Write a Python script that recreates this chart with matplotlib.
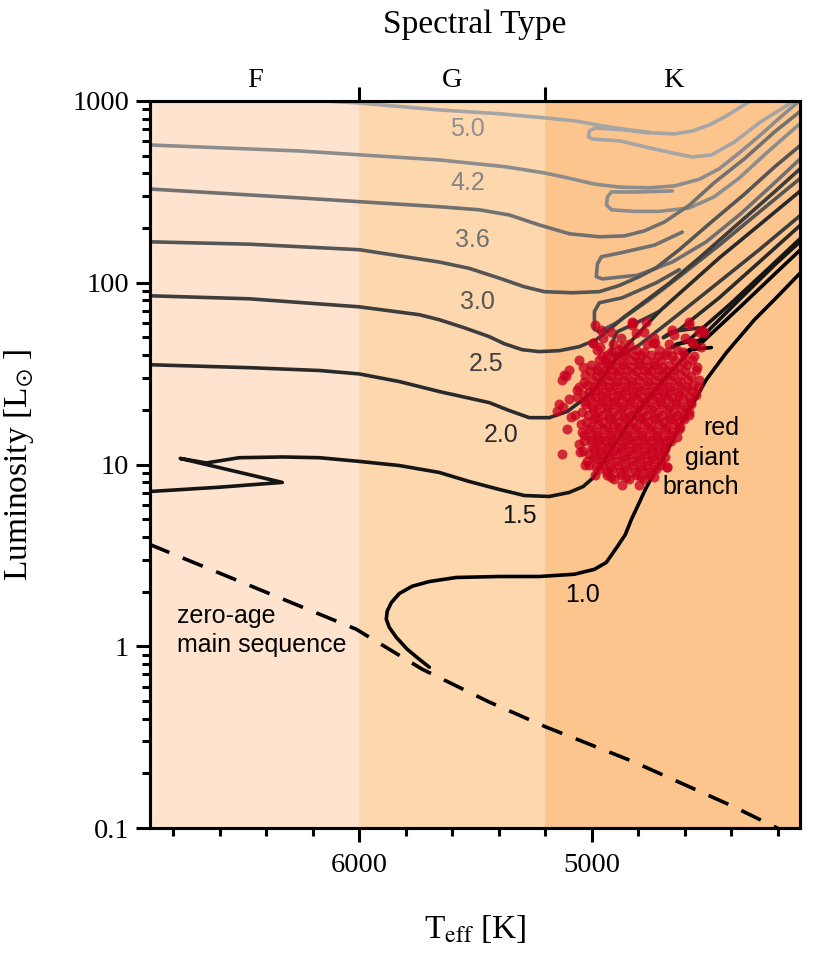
import matplotlib.pyplot as plt
from matplotlib.ticker import MultipleLocator, NullFormatter

plt.rcParams['font.family'] = 'Liberation Serif'
plt.rcParams['mathtext.fontset'] = 'stix'

# spectral type bands (K)
band_edges = [6900, 6000, 5200, 4100]
band_names = ['F', 'G', 'K']
band_centres = [6450, 5600, 4650]
band_colors = ['#fee4cf', '#fdd8ae', '#fdc58e']

# zero-age main sequence
zams_teff = [6903, 6013, 5729, 5441, 5196, 4826, 4396, 4224, 4108]
zams_lum = [3.64, 1.24, 0.747, 0.493, 0.359, 0.233, 0.132, 0.103, 0.087]

# evolutionary tracks: main branch + He-burning part
m50_teff = [6903, 6301, 6000, 5656, 5398, 5200, 5075, 4951, 4839, 4731, 4645, 4568, 4495, 4422, 4344, 4280]
m50_lum = [1152, 1026, 975, 893, 851, 807, 778, 729, 693, 667, 659, 684, 738, 827, 955, 1060]
m50_he_teff = [4753, 4860, 4985, 5011, 5015, 4998, 4877, 4753, 4654, 4568, 4486, 4387, 4275, 4151, 4086]
m50_he_lum = [667, 693, 711, 684, 634, 618, 603, 552, 518, 492, 505, 595, 767, 963, 1079]

m42_teff = [6903, 6258, 5656, 5368, 5204, 5097, 4989, 4882, 4753, 4645, 4538, 4452, 4361, 4280, 4194, 4108]
m42_lum = [573, 531, 474, 434, 402, 376, 349, 336, 333, 341, 371, 424, 525, 642, 804, 1000]
m42_he_teff = [4654, 4796, 4916, 4933, 4937, 4916, 4817, 4710, 4581, 4474, 4366, 4258, 4151, 4086]
m42_he_lum = [320, 316, 316, 297, 268, 252, 247, 247, 258, 297, 377, 505, 667, 787]

m36_teff = [6903, 6258, 5656, 5484, 5355, 5226, 5097, 4968, 4860, 4774, 4688, 4581, 4474, 4344, 4215, 4086]
m36_lum = [328, 293, 262, 252, 236, 208, 186, 179, 181, 193, 216, 267, 355, 481, 675, 915]
m36_he_teff = [4611, 4731, 4877, 4959, 4976, 4981, 4955, 4804, 4654, 4508, 4361, 4215, 4086]
m36_he_lum = [190, 161, 146, 139, 127, 108, 105, 110, 130, 168, 239, 354, 505]

m30_teff = [6903, 6473, 6000, 5656, 5527, 5398, 5290, 5204, 5084, 4968, 4882, 4796, 4723, 4624,
            4495, 4344, 4215, 4086]
m30_lum = [168, 163, 152, 130, 120, 106, 95.0, 89.3, 88.1, 89.3, 96.6, 108, 121, 152,
           211, 307, 433, 595]
m30_he_teff = [4624, 4723, 4869, 4968, 4989, 4989, 4968, 4895, 4753, 4624, 4452, 4280, 4086]
m30_he_lum = [118, 100, 82.7, 77.6, 69.5, 55.2, 53.8, 60.1, 80.7, 108, 161, 245, 392]

m25_teff = [6903, 6473, 6000, 5742, 5656, 5548, 5441, 5377, 5299, 5226, 5140, 5054, 4981, 4925,
            4860, 4774, 4667, 4538, 4366, 4215, 4086]
m25_lum = [84.8, 81.6, 73.7, 66.7, 62.6, 56.5, 50.5, 46.2, 42.8, 41.8, 42.3, 44.5, 48.6, 55.2,
           65.0, 78.6, 99.4, 137, 214, 316, 445]
m25_he_teff = [4710, 4817, 4890, 4912, 4916, 4890, 4796, 4667, 4495, 4280, 4086]
m25_he_lum = [69.5, 59.4, 53.8, 47.3, 41.2, 38.6, 45.5, 61.1, 91.5, 152, 245]

m20_teff = [6903, 6473, 6172, 6000, 5828, 5656, 5441, 5355, 5269, 5183, 5105, 5037, 4989, 4946,
            4890, 4817, 4710, 4581, 4452, 4280, 4086]
m20_lum = [35.4, 34.1, 32.9, 31.5, 28.6, 25.2, 21.9, 19.8, 18.1, 18.1, 19.6, 22.8, 25.8, 31.2,
           39.3, 49.9, 69.5, 97.6, 137, 208, 334]
m20_he_teff = [4538, 4658, 4693, 4624, 4452, 4280, 4086]
m20_he_lum = [56.5, 53.8, 49.9, 55.2, 82.7, 130, 217]

m15_teff = [6903, 6602, 6331, 6770, 6658, 6516, 6331, 6172, 6000, 5828, 5656, 5527, 5398, 5290,
            5183, 5097, 5037, 4994, 4964, 4916, 4860, 4796, 4710, 4602, 4495, 4366, 4215, 4086]
m15_lum = [7.1, 7.5, 7.97, 10.8, 10.2, 10.9, 11.0, 10.9, 10.4, 9.87, 9.04, 8.06, 7.29, 6.75,
           6.67, 7.02, 7.57, 8.46, 9.71, 12.1, 15.6, 20.1, 27.5, 39.1, 55.2, 80.7, 125, 177]
m15_he_teff = [4516, 4632, 4658, 4581, 4409, 4237, 4086]
m15_he_lum = [48.6, 46.2, 44.0, 48.6, 75.6, 121, 184]

m10_teff = [5699, 5742, 5794, 5841, 5871, 5884, 5880, 5862, 5828, 5772, 5699, 5583, 5398, 5226,
            5075, 4989, 4938, 4890, 4856, 4830, 4800, 4770, 4736, 4697, 4645, 4594, 4551, 4508,
            4422, 4301, 4215, 4082]
m10_lum = [0.767, 0.848, 0.963, 1.12, 1.27, 1.41, 1.56, 1.74, 1.95, 2.14, 2.27, 2.39, 2.42, 2.42,
           2.49, 2.65, 2.89, 3.54, 4.12, 4.99, 6.02, 7.29, 8.81, 10.6, 14.2, 18.8, 23.3, 29.3,
           41.2, 62.6, 80.7, 121]
m10_he_teff = [4486, 4581, 4607, 4538, 4366, 4194, 4082]
m10_he_lum = [44.0, 42.8, 40.7, 45.5, 72.9, 118, 161]

mass_labels = ['5.0', '4.2', '3.6', '3.0', '2.5', '2.0', '1.5', '1.0']
label_teff = [5535, 5535, 5514, 5492, 5454, 5389, 5312, 5041]
label_lum = [702, 354, 172, 78.7, 35.9, 14.6, 5.18, 1.91]
track_colors = ['#a5a5a5', '#8c8c8c', '#707070', '#555555', '#3d3d3d', '#2a2a2a', '#151515', '#000000']
label_colors = ['#8f8f8f', '#858585', '#707070', '#555555', '#3d3d3d', '#2a2a2a', '#151515', '#000000']

# red giants in the sample
giant_lum = ([61.1] * 3 + [58.8] * 3 + [55.2] * 3 + [53.8] * 3 + [49.9] * 4 + [46.8] * 2 + [46.2] * 5
             + [44.5] * 3 + [42.8] * 5 + [40.2] * 6 + [37.8] * 8 + [35.4] * 7 + [33.3] * 8 + [31.2] * 8
             + [29.3] * 9 + [27.5] * 8 + [25.8] * 8 + [24.2] * 8 + [22.8] * 8 + [21.4] * 9 + [20.1] * 7
             + [19.6] * 1 + [18.8] * 9 + [17.7] * 7 + [16.6] * 7 + [15.6] * 8 + [14.6] * 7 + [13.7] * 6
             + [12.9] * 6 + [12.1] * 6 + [11.4] * 7 + [10.7] * 5 + [10.0] * 6 + [9.39] * 5 + [8.81] * 4
             + [8.27] * 3 + [7.76] * 2
             + [41.8] * 5 + [39.3] * 6 + [36.8] * 5 + [34.5] * 8 + [32.5] * 7 + [30.5] * 7 + [28.6] * 7
             + [26.8] * 9 + [25.2] * 8 + [23.6] * 8 + [22.2] * 8 + [20.8] * 7 + [19.5] * 8 + [18.3] * 7
             + [17.2] * 7 + [16.1] * 7 + [15.1] * 7 + [14.2] * 7 + [13.4] * 7 + [12.5] * 6 + [11.8] * 6
             + [11.0] * 6 + [10.4] * 6 + [9.71] * 6 + [9.13] * 4 + [8.5] * 4
             + [30.5, 20.6, 18.3, 11.7, 10.0, 8.8, 37.8, 46.8, 60.1, 53.1, 46.8, 51.9, 47.3, 53.1, 9.71])
giant_teff = [4826, 4766, 4581,
              4985, 4826, 4581,
              4959, 4654, 4525,
              4916, 4774, 4538,
              4951, 4873, 4731, 4598,
              4994, 4736,
              4908, 4839, 4761, 4667, 4563,
              4963, 4869, 4529,
              4976, 4882, 4809, 4710, 4632,
              4933, 4856, 4787, 4744, 4680, 4602,
              5054, 4968, 4899, 4826, 4766, 4701, 4641, 4568,
              5002, 4929, 4865, 4796, 4731, 4667, 4589,
              5097, 4976, 4912, 4847, 4774, 4710, 4645, 4551,
              5118, 5028, 4951, 4886, 4817, 4753, 4684, 4615,
              5127, 4994, 4925, 4860, 4796, 4727, 4658, 4585, 4538,
              5020, 4955, 4895, 4830, 4761, 4697, 4628, 4563,
              5062, 4985, 4921, 4856, 4792, 4723, 4662, 4598,
              5032, 4959, 4886, 4822, 4753, 4688, 4624, 4551,
              5097, 5002, 4933, 4869, 4804, 4736, 4671, 4607,
              5140, 5028, 4968, 4903, 4839, 4770, 4701, 4637, 4572,
              4994, 4937, 4873, 4809, 4744, 4675, 4611,
              5149,
              5071, 5015, 4955, 4890, 4826, 4761, 4697, 4632, 4581,
              4989, 4921, 4856, 4792, 4727, 4662, 4602,
              5045, 4972, 4908, 4843, 4774, 4710, 4645,
              5105, 5011, 4946, 4882, 4813, 4748, 4684, 4624,
              5032, 4976, 4916, 4847, 4783, 4718, 4658,
              5002, 4942, 4877, 4809, 4744, 4680,
              5054, 4968, 4908, 4839, 4774, 4710,
              4989, 4933, 4869, 4804, 4740, 4684,
              5127, 5011, 4959, 4895, 4830, 4766, 4710,
              4981, 4921, 4856, 4792, 4731,
              5011, 4951, 4886, 4822, 4761, 4701,
              4968, 4912, 4847, 4783, 4723,
              4933, 4873, 4809, 4748,
              4903, 4839, 4774,
              4869, 4796,
              # second pass, in between the first
              4916, 4847, 4774, 4675, 4607,
              4955, 4890, 4813, 4714, 4654, 4559,
              4933, 4860, 4796, 4731, 4607,
              5037, 4968, 4895, 4830, 4761, 4697, 4628, 4546,
              5006, 4942, 4882, 4809, 4744, 4675, 4598,
              4981, 4916, 4852, 4783, 4714, 4650, 4572,
              5032, 4959, 4890, 4826, 4757, 4693, 4620,
              5054, 4989, 4925, 4856, 4796, 4727, 4662, 4589, 4542,
              5011, 4951, 4886, 4822, 4757, 4693, 4628, 4563,
              5062, 4985, 4921, 4852, 4787, 4718, 4654, 4581,
              5024, 4959, 4899, 4834, 4770, 4706, 4637, 4572,
              4998, 4933, 4869, 4800, 4736, 4667, 4598,
              5041, 4972, 4908, 4843, 4779, 4714, 4645, 4581,
              4985, 4925, 4860, 4796, 4731, 4667, 4607,
              5024, 4955, 4890, 4826, 4761, 4693, 4628,
              5002, 4937, 4877, 4809, 4744, 4680, 4620,
              5041, 4976, 4912, 4847, 4783, 4718, 4654,
              5006, 4946, 4882, 4817, 4753, 4693, 4632,
              5032, 4972, 4912, 4847, 4779, 4714, 4658,
              4998, 4937, 4873, 4809, 4744, 4684,
              5037, 4963, 4903, 4839, 4774, 4714,
              4989, 4929, 4865, 4800, 4740, 4684,
              5019, 4955, 4890, 4826, 4761, 4701,
              4981, 4921, 4856, 4792, 4731, 4675,
              4937, 4877, 4813, 4753,
              4916, 4852, 4787, 4731,
              # stragglers
              5110, 5123, 5088, 5050, 5028, 4985, 4942, 4994, 4822, 4809, 4727, 4645, 4568, 4516, 4675]

tracks = [
    (m50_teff, m50_lum, m50_he_teff, m50_he_lum),
    (m42_teff, m42_lum, m42_he_teff, m42_he_lum),
    (m36_teff, m36_lum, m36_he_teff, m36_he_lum),
    (m30_teff, m30_lum, m30_he_teff, m30_he_lum),
    (m25_teff, m25_lum, m25_he_teff, m25_he_lum),
    (m20_teff, m20_lum, m20_he_teff, m20_he_lum),
    (m15_teff, m15_lum, m15_he_teff, m15_he_lum),
    (m10_teff, m10_lum, m10_he_teff, m10_he_lum),
]

fig = plt.figure(figsize=(8.3, 9.58), dpi=100)
ax = fig.add_axes([150 / 830, 1 - 828 / 958, 650 / 830, 727 / 958])

for i in range(3):
    ax.axvspan(band_edges[i], band_edges[i + 1], color=band_colors[i], lw=0, zorder=0)

ax.plot(zams_teff, zams_lum, color='black', lw=2.6, dashes=(6, 4), zorder=2)

for (t, l, ht, hl), c in zip(tracks, track_colors):
    ax.plot(t, l, color=c, lw=2.6, solid_capstyle='round', solid_joinstyle='round', zorder=2)
    ax.plot(ht, hl, color=c, lw=2.6, solid_capstyle='round', solid_joinstyle='round', zorder=2)

for lab, t, l, c in zip(mass_labels, label_teff, label_lum, label_colors):
    ax.text(t, l, lab, color=c, fontsize=18, family='Liberation Sans', ha='center', va='center', zorder=4)

ax.scatter(giant_teff, giant_lum, s=52, color='#c8001e', alpha=0.78, lw=0, zorder=3)

ax.text(4366, 10.9, 'red\ngiant\nbranch', fontsize=18, family='Liberation Sans',
        ha='right', va='center', multialignment='right', linespacing=1.3, zorder=4)
ax.text(6783, 1.22, 'zero-age\nmain sequence', fontsize=18, family='Liberation Sans',
        ha='left', va='center', linespacing=1.3, zorder=4)

ax.set_xlim(6900, 4105)
ax.set_yscale('log')
ax.set_ylim(0.1, 1000)
ax.set_xticks([6000, 5000])
ax.xaxis.set_minor_locator(MultipleLocator(200))
ax.set_yticks([0.1, 1, 10, 100, 1000])
ax.set_yticklabels(['0.1', '1', '10', '100', '1000'])
ax.yaxis.set_minor_formatter(NullFormatter())
ax.tick_params(which='major', length=10, width=2.2, labelsize=20.5, pad=5)
ax.tick_params(which='minor', length=5.5, width=2.2)
ax.tick_params(axis='x', which='major', pad=8)
ax.set_xlabel(r'T$_{\rm eff}$ [K]', fontsize=24, labelpad=25)
ax.set_ylabel(r'Luminosity [L$_{\odot}$ ]', fontsize=24, labelpad=26)
for s in ax.spines.values():
    s.set_linewidth(2.2)

ax2 = ax.twiny()
ax2.set_xlim(ax.get_xlim())
ax2.set_xticks(band_edges[1:3])
ax2.set_xticklabels([])
ax2.set_xticks(band_centres, minor=True)
ax2.set_xticklabels(band_names, minor=True)
ax2.tick_params(which='major', length=10, width=2.2)
ax2.tick_params(which='minor', length=0, pad=6, labelsize=20.5)
ax2.set_xlabel('Spectral Type', fontsize=24, labelpad=25)
for s in ax2.spines.values():
    s.set_linewidth(2.2)

fig.savefig('out.png', dpi=100)
